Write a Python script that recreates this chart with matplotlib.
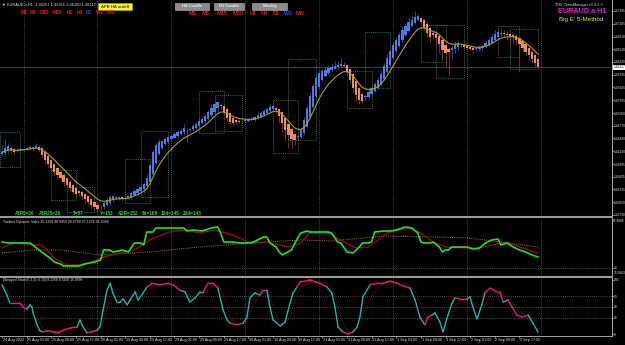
import numpy as np
import pandas as pd
import matplotlib
matplotlib.use("Agg")
import matplotlib.pyplot as plt
from matplotlib.patches import Rectangle
from matplotlib.lines import Line2D
from matplotlib.collections import LineCollection
from matplotlib.transforms import blended_transform_factory

plt.rcParams['font.family'] = ['Liberation Sans', 'DejaVu Sans']

# ---- EURAUD.a H1, Heiken Ashi close, 24 Aug 17:00 .. 2 Sep 23:00
ha_close = [
    1.4417, 1.4426, 1.4431, 1.4422, 1.4417, 1.4422, 1.4424,
    1.4424, 1.4426, 1.4428, 1.4428, 1.4431, 1.4422, 1.4410, 1.4399, 1.4390, 1.4380, 1.4371, 1.4364,
    1.4358, 1.4348, 1.4342, 1.4335, 1.4326, 1.4321, 1.4323, 1.4316, 1.4310, 1.4303, 1.4296, 1.4291,
    1.4287, 1.4291, 1.4300, 1.4307, 1.4314, 1.4316, 1.4312, 1.4314, 1.4312, 1.4310, 1.4316, 1.4323,
    1.4328, 1.4332, 1.4337, 1.4344, 1.4358, 1.4387, 1.4417, 1.4433, 1.4440, 1.4442, 1.4447, 1.4451,
    1.4454, 1.4458, 1.4463, 1.4465, 1.4472, 1.4467, 1.4470, 1.4476, 1.4481, 1.4488, 1.4492, 1.4499,
    1.4508, 1.4518, 1.4527, 1.4531, 1.4522, 1.4508, 1.4495, 1.4486, 1.4483, 1.4486, 1.4486, 1.4488,
    1.4490, 1.4490, 1.4492, 1.4497, 1.4502, 1.4506, 1.4511, 1.4515, 1.4520, 1.4522, 1.4513, 1.4499,
    1.4483, 1.4467, 1.4456, 1.4447, 1.4444, 1.4454, 1.4467, 1.4490, 1.4518, 1.4545, 1.4568, 1.4586,
    1.4598, 1.4602, 1.4604, 1.4609, 1.4612, 1.4614, 1.4616, 1.4618, 1.4614, 1.4600, 1.4582, 1.4563,
    1.4547, 1.4536, 1.4534, 1.4545, 1.4554, 1.4563, 1.4572, 1.4582, 1.4595, 1.4614, 1.4632, 1.4648,
    1.4662, 1.4673, 1.4685, 1.4696, 1.4705, 1.4714, 1.4719, 1.4726, 1.4728, 1.4714, 1.4701, 1.4689,
    1.4680, 1.4685, 1.4678, 1.4664, 1.4650, 1.4643, 1.4646, 1.4655, 1.4662, 1.4666, 1.4662, 1.4657,
    1.4655, 1.4653, 1.4650, 1.4653, 1.4655, 1.4659, 1.4666, 1.4673, 1.4680, 1.4687, 1.4691, 1.4689,
    1.4687, 1.4685, 1.4682, 1.4680, 1.4673, 1.4664, 1.4655, 1.4646, 1.4639, 1.4630, 1.4620, 1.46117,
]
# wick lengths in pips
wick_hi = [
    15, 20, 6, 4, 3, 5, 4,
    3, 4, 5, 3, 6, 3, 2, 2, 3, 2, 2, 3, 2, 4, 2, 3, 2, 2, 3, 4, 2, 2, 3, 2,
    2, 4, 5, 6, 4, 3, 5, 3, 2, 4, 3, 5, 4, 3, 6, 5, 8, 6, 5, 4, 6, 3, 4, 5,
    3, 4, 5, 6, 8, 4, 3, 5, 4, 6, 5, 4, 6, 8, 5, 3, 2, 3, 4, 3, 2, 3, 4, 3,
    3, 4, 5, 3, 6, 4, 5, 4, 7, 4, 3, 2, 3, 2, 3, 4, 3, 5, 6, 8, 7, 6, 5, 4,
    6, 5, 8, 6, 9, 12, 10, 14, 6, 3, 2, 3, 2, 3, 4, 5, 4, 6, 5, 6, 7, 6, 8, 7,
    6, 8, 7, 9, 8, 10, 12, 14, 5, 4, 3, 6, 5, 4, 3, 2, 4, 6, 5, 4, 8, 6, 5, 4,
    3, 4, 5, 4, 6, 5, 7, 8, 6, 9, 10, 12, 8, 6, 5, 3, 4, 3, 2, 3, 2, 3, 2, 3,
]
wick_lo = [
    6, 4, 5, 8, 6, 4, 3,
    3, 2, 3, 4, 2, 5, 6, 8, 7, 6, 8, 7, 6, 9, 8, 7, 6, 8, 7, 6, 9, 8, 10, 9,
    8, 6, 4, 3, 5, 4, 3, 4, 5, 3, 2, 3, 2, 4, 3, 8, 6, 4, 3, 2, 3, 2, 3, 2,
    3, 2, 4, 3, 6, 27, 5, 3, 2, 3, 2, 3, 2, 4, 8, 10, 9, 7, 6, 5, 4, 3, 2, 3,
    2, 3, 2, 3, 2, 3, 2, 3, 2, 5, 10, 15, 20, 25, 30, 22, 10, 6, 4, 3, 2, 3, 2, 3,
    3, 2, 3, 2, 3, 2, 3, 4, 6, 8, 10, 12, 14, 10, 8, 6, 4, 3, 2, 3, 2, 3, 2, 3,
    2, 3, 2, 3, 2, 3, 2, 3, 2, 5, 8, 10, 12, 9, 14, 20, 25, 30, 55, 20, 8, 6, 5, 4,
    4, 5, 6, 5, 4, 3, 2, 3, 2, 3, 2, 3, 8, 12, 20, 15, 12, 65, 10, 8, 12, 10, 8, 6,
]
last_price = 1.46117
price_ticks = [1.47395, 1.47105, 1.46810, 1.46520, 1.46230, 1.45935, 1.45645, 1.45355, 1.45060,
               1.44770, 1.44480, 1.44190, 1.43895, 1.43605, 1.43315, 1.43020, 1.42730]
day_starts = [7, 31, 55, 79, 103, 127, 151, 175]
date_idx = list(range(0, 169, 8))
date_labels = ["24 Aug 2022", "25 Aug 01:00", "25 Aug 09:00", "25 Aug 17:00", "26 Aug 01:00",
               "26 Aug 09:00", "26 Aug 17:00", "29 Aug 01:00", "29 Aug 09:00", "29 Aug 17:00",
               "30 Aug 01:00", "30 Aug 09:00", "30 Aug 17:00", "31 Aug 01:00", "31 Aug 09:00",
               "31 Aug 17:00", "1 Sep 01:00", "1 Sep 09:00", "1 Sep 17:00", "2 Sep 01:00",
               "2 Sep 09:00", "2 Sep 17:00"]

# 5-Method boxes
box_start = [-0.5, 16, 21, 40, 45, 64, 69, 88, 93, 112, 118, 136, 141, 161, 165]
box_end = [6, 24, 30, 48, 54, 72, 78, 96, 102, 120, 126, 144, 150, 168, 174]
box_low = [1.4383, 1.4307, 1.4280, 1.4300, 1.4314, 1.4460, 1.4465, 1.4415, 1.4444, 1.4518,
           1.4563, 1.4623, 1.4586, 1.4634, 1.4607]
box_high = [1.4463, 1.4376, 1.4337, 1.4401, 1.4465, 1.4556, 1.4547, 1.4536, 1.4630, 1.4602,
            1.4691, 1.4707, 1.4707, 1.4705, 1.4698]
box_kind = ['teal', 'green', 'teal', 'green', 'teal', 'green', 'teal', 'green', 'teal', 'green',
            'teal', 'green', 'teal', 'green', 'teal']

# Traders Dynamic Index
tdi_bar = [0, 2, 4, 9, 10, 12, 16, 17, 19, 20,
           24, 25, 27, 30, 32, 33, 35, 36, 38, 39,
           41, 43, 45, 46, 47, 49, 50, 54, 55, 59,
           60, 62, 65, 68, 70, 71, 72, 75, 77, 81,
           85, 86, 87, 89, 90, 91, 94, 96, 97, 99,
           100, 106, 107, 109, 110, 112, 114, 116, 117, 119,
           120, 121, 124, 126, 128, 130, 131, 133, 135, 136,
           137, 139, 140, 142, 143, 144, 145, 146, 149, 151,
           153, 155, 157, 159, 161, 162, 164, 166, 168, 170,
           172, 174]
tdi_rsi = [45.9, 45.0, 45.0, 45.0, 43.2, 38.8, 30.7, 28.0, 26.3, 24.5,
           24.5, 24.5, 26.3, 28.0, 29.8, 38.8, 38.8, 37.0, 37.9, 38.8,
           37.0, 45.0, 45.0, 43.2, 54.8, 54.8, 58.4, 58.4, 58.4, 58.4,
           55.7, 56.6, 55.7, 58.4, 59.3, 53.9, 45.9, 45.9, 45.0, 45.0,
           50.4, 50.4, 45.0, 41.4, 37.0, 34.3, 38.8, 49.5, 53.9, 55.7,
           54.8, 54.8, 53.9, 45.9, 45.0, 37.0, 36.1, 41.4, 45.0, 45.0,
           45.9, 54.8, 55.7, 55.7, 56.6, 58.4, 59.3, 58.4, 53.9, 45.9,
           45.0, 45.0, 45.9, 41.4, 37.0, 38.8, 38.8, 41.4, 41.4, 41.4,
           39.6, 40.5, 45.0, 47.7, 48.6, 43.2, 45.0, 41.4, 38.8, 37.0,
           34.3, 32.5]
sig_bar = [0, 4, 10, 13, 17, 21, 25, 29, 33, 43, 48, 54, 60, 64, 69, 75, 80, 86, 93,
           97, 100, 106, 111, 115, 119, 125, 129, 132, 136, 140, 144, 151, 155, 159, 164, 168, 174]
tdi_signal = [40.5, 45.0, 43.2, 43.2, 31.6, 25.4, 25.4, 28.0, 32.5, 38.8, 47.7, 54.8, 56.6,
              53.9, 56.6, 52.1, 45.9, 45.9, 41.4, 45.0, 53.9, 53.9, 45.9, 40.5, 41.4, 53.9,
              56.6, 58.4, 53.9, 45.9, 41.4, 40.5, 40.5, 43.2, 45.9, 41.4, 36.1]
mid_bar = [0, 10, 19, 32, 48, 64, 81, 97, 107, 124, 140, 151, 162, 174]
tdi_mid = [36.1, 38.8, 38.8, 34.3, 37.0, 41.4, 45.0, 47.7, 46.8, 51.2, 50.4, 49.5, 45.9, 41.4]

# Stepped Stoch main line (1 = pink segment)
st_bar = [0, 1.6, 2.6, 3.6, 5.8, 6.8, 8.1, 9.1, 9.7, 10.1,
          11.4, 12.3, 13.3, 14.9, 16.6, 18.2, 19.8, 22.1, 24.4, 25.3,
          26.3, 27.6, 29.2, 30.8, 31.8, 32.8, 34.1, 35.1, 36.0, 37.3,
          38.3, 39.3, 40.6, 41.6, 43.2, 44.2, 45.8, 47.1, 48.7, 51.3,
          53.9, 55.5, 57.8, 59.4, 61.0, 62.7, 64.3, 65.3, 66.9, 68.5,
          70.1, 71.8, 73.1, 74.0, 76.3, 78.2, 79.5, 80.5, 82.1, 83.8,
          84.7, 86.0, 87.0, 88.0, 89.3, 90.3, 91.9, 93.5, 94.5, 95.8,
          96.8, 100.0, 103.2, 105.5, 107.1, 108.1, 109.1, 110.7, 112.3, 114.0,
          115.3, 116.2, 117.2, 119.5, 121.8, 123.7, 126.0, 128.2, 130.2, 132.5,
          134.1, 135.7, 137.3, 138.3, 139.6, 140.6, 142.2, 143.2, 144.8, 146.1,
          147.1, 148.7, 151.0, 151.9, 152.9, 154.2, 155.8, 156.8, 158.4, 160.7,
          161.7, 162.7, 164.3, 165.6, 167.2, 168.8, 170.8, 172.4, 174.0]
st_k = [91, 72, 57, 57, 57, 50, 46, 54, 50, 39,
        17, 6, 4, 6, 4, 2, 7, 11, 13, 26,
        13, 2, 4, 7, 13, 44, 81, 94, 76, 59,
        59, 65, 54, 63, 78, 63, 76, 87, 94, 91,
        94, 91, 81, 78, 59, 67, 78, 78, 94, 94,
        85, 44, 26, 20, 17, 20, 30, 67, 76, 72,
        81, 81, 50, 26, 20, 15, 22, 57, 76, 87,
        96, 100, 94, 87, 76, 50, 13, 4, 0, 4,
        13, 31, 69, 91, 94, 94, 98, 94, 89, 85,
        63, 31, 17, 31, 35, 39, 22, 4, 35, 57,
        67, 65, 65, 69, 50, 28, 54, 76, 85, 78,
        78, 59, 63, 50, 35, 31, 35, 20, 4]
st_pink = [0, 0, 0, 1, 1, 1, 1, 0, 0, 0,
           0, 0, 0, 1, 1, 1, 1, 1, 1, 0,
           0, 0, 1, 1, 0, 0, 0, 0, 0, 0,
           0, 0, 0, 0, 0, 0, 0, 0, 1, 1,
           1, 1, 1, 0, 0, 0, 0, 0, 1, 1,
           1, 0, 0, 0, 1, 1, 0, 0, 0, 0,
           1, 1, 0, 0, 0, 0, 0, 0, 0, 0,
           1, 1, 1, 1, 0, 0, 0, 0, 1, 1,
           0, 0, 0, 0, 1, 1, 1, 1, 1, 1,
           0, 0, 0, 1, 1, 0, 0, 0, 0, 0,
           0, 1, 1, 0, 0, 0, 0, 0, 1, 1,
           1, 1, 0, 1, 1, 1, 1, 0, 0]

stats_text = ["ATR5=26", "ATR25=26", "T=57", "Y=153", "ADR=152", "5d=168", "10d=145", "20d=143"]
tf_labels = ["M1", "M5", "M15", "M30", "H1", "H4", "D1", "W1", "MN"]

# ---------------------------------------------------------------- layout
W, H = 625, 345
fig = plt.figure(figsize=(W / 100, H / 100), dpi=100, facecolor='black')
GRID = '#8a8a8a'
TXT = '#e0e0e0'
X0, X1 = -0.65, 198.05


def px_axes(x0, y0, x1, y1):
    a = fig.add_axes([x0 / W, 1 - y1 / H, (x1 - x0) / W, (y1 - y0) / H])
    a.set_facecolor('black')
    for s in a.spines.values():
        s.set_visible(False)
    a.spines['right'].set_visible(True)
    a.spines['right'].set_color('#c0c0c0')
    a.spines['right'].set_linewidth(0.6)
    a.set_xlim(X0, X1)
    a.set_xticks([])
    a.yaxis.tick_right()
    a.tick_params(axis='y', colors=TXT, labelsize=2.3, length=1.2, width=0.4, pad=0.3)
    for d in day_starts:
        a.axvline(d, color=GRID, lw=0.5, ls=(0, (1, 2)), zorder=0)
    return a


def ftext(x, y, s, **kw):
    kw.setdefault('va', 'center')
    kw.setdefault('ha', 'left')
    fig.text(x / W, 1 - y / H, s, **kw)


# ---------------------------------------------------------------- main chart
ax = px_axes(0, 0, 612, 216)
ax.set_ylim(1.42707, 1.47645)
ax.set_yticks(price_ticks, labels=[f"{p:.5f}" for p in price_ticks])

n = len(ha_close)
idx = np.arange(n)
close = np.array(ha_close)
ha_open = np.zeros(n)
ha_open[0] = close[0] - 0.0004
for k in range(1, n):
    ha_open[k] = (ha_open[k - 1] + close[k - 1]) / 2
top = np.maximum(ha_open, close)
bot = np.minimum(ha_open, close)
high = top + np.array(wick_hi) * 0.0001
low = bot - np.array(wick_lo) * 0.0001
bull = close >= ha_open

ax.vlines(idx, low, high, colors=np.where(bull, '#2f4fae', '#8e3222'), lw=0.6, zorder=2)
ax.bar(idx, np.maximum(top - bot, 0.00012), bottom=bot, width=0.72,
       color=np.where(bull, '#4a7ae8', '#f08a62'), linewidth=0, zorder=3)

ma = pd.Series(ha_close).ewm(span=9, adjust=False).mean()
ax.plot(idx, ma, color='#a8a400', lw=0.8, zorder=4)

for s, e, lo, hi, kind in zip(box_start, box_end, box_low, box_high, box_kind):
    ax.add_patch(Rectangle((s, lo), e - s, hi - lo, fill=False, lw=0.6, ls=(0, (1, 1.3)),
                           edgecolor='#1f9090' if kind == 'teal' else '#4c8c1c', zorder=1))

ax.axhline(last_price, color='#5c5c5c', lw=0.5, zorder=1)
ftext(613.3, 67.5, f"{last_price:.5f}", fontsize=2.3, color='black',
      bbox=dict(boxstyle='square,pad=0.2', fc='white', ec='none'))

# header texts
ftext(2, 5, "\u25bc EURAUD.a,H1  1.46251 1.46251 1.46100 1.46117", fontsize=2.8, color=TXT,
      family=['Liberation Sans', 'DejaVu Sans'])
set1_x = [21, 30, 40, 53, 67, 77, 86, 96, 107]
set2_x = [189, 202, 217, 233, 250, 261, 273, 284, 296]
for lab, xa, xb in zip(tf_labels, set1_x, set2_x):
    ftext(xa, 13, lab, fontsize=3.4, color='#2a4cff' if lab == 'D1' else '#f01030',
          weight='bold')
    ftext(xb, 13.5, lab, fontsize=4.1, color='#2a4cff' if lab == 'W1' else '#f01030',
          weight='bold')

fig.add_artist(Rectangle((98 / W, 1 - 10 / H), 34 / W, 7 / H, transform=fig.transFigure,
                         fc='#ffff00', ec='#b0b000', lw=0.4))
ftext(115, 6.5, "APB HA on/off", fontsize=3.0, color='#1030d0', ha='center', weight='bold')
for lab, bx, bw in [("H4 Candle", 175, 34), ("D1 Candle", 214, 30), ("Weekly", 252, 35)]:
    fig.add_artist(Rectangle((bx / W, 1 - 9.5 / H), bw / W, 7 / H, transform=fig.transFigure,
                             fc='#8c8c8c', ec='#b4b4b4', lw=0.4))
    ftext(bx + bw / 2, 6, lab, fontsize=3.0, color='#f0f0f0', ha='center', weight='bold')

ftext(555, 5, "THV CloseManager v1.4.2 \u00a9", fontsize=2.7, color=TXT)
ftext(558, 11.5, "EURAUD.a H1", fontsize=5.2, color='#e020e0', weight='bold')
ftext(559, 19.5, "Big E' 5-Method", fontsize=4.5, color='#e8e800')

stats_x = [15, 39, 73, 100, 118, 142, 161, 183]
for s, xs in zip(stats_text, stats_x):
    ftext(xs, 213.5, s, fontsize=3.3, color='#22e022', weight='bold')

# ---------------------------------------------------------------- TDI
ax_t = px_axes(0, 218, 612, 276)
ax_t.set_ylim(15.56, 67.30)
ax_t.set_yticks([23], labels=["23"])
ax_t.axhline(23, color=GRID, lw=0.5, ls=(0, (1, 2)), zorder=0)
ax_t.plot(mid_bar, tdi_mid, color='#a57a18', lw=0.7, ls=(0, (1, 1.2)))
ax_t.plot(sig_bar, tdi_signal, color='#9a0f0f', lw=0.9)
ax_t.plot(tdi_bar, tdi_rsi, color='#22e022', lw=1.2)
ftext(3, 221.5, "Traders Dynamic Index 35.2209 46.9459 30.6709 37.1232 31.3088",
      fontsize=2.5, color=TXT)
ftext(613.3, 220.5, "67.3008", fontsize=2.3, color=TXT)
ftext(613.3, 273.2, "15.5603", fontsize=2.3, color=TXT)

# ---------------------------------------------------------------- Stoch
ax_s = px_axes(0, 277.5, 612, 336)
ax_s.set_ylim(-3.7, 104.6)
ax_s.set_yticks([0, 30, 50, 70, 100], labels=["0", "30", "50", "70", "100"])
for lv in (30, 50, 70):
    ax_s.axhline(lv, color=GRID, lw=0.5, ls=(0, (1, 2)), zorder=0)
ax_s.spines['bottom'].set_visible(True)
ax_s.spines['bottom'].set_color('#c0c0c0')
ax_s.spines['bottom'].set_linewidth(0.6)
ax_s.set_xticks(date_idx, labels=[])
ax_s.tick_params(axis='x', colors=TXT, length=1.5, width=0.4)

signal = pd.Series(st_k).rolling(3, min_periods=1).mean()
ax_s.plot(st_bar, signal, color='#a01818', lw=0.6, ls=(0, (1, 1.2)))
pts = np.column_stack([st_bar, st_k])
segs = np.stack([pts[:-1], pts[1:]], axis=1)
cols = ['#e0207a' if p else '#1fb3ad' for p in st_pink[1:]]
ax_s.add_collection(LineCollection(segs, colors=cols, lw=1.0, capstyle='round'))
ftext(3, 280.5, "[Stepped Stoch(5,3,3) v1.02] 8.3268 8.3268 16.8998", fontsize=2.4, color=TXT)

tr = blended_transform_factory(ax_s.transData, fig.transFigure)
for d, lab in zip(date_idx, date_labels):
    ax_s.text(d + 0.2, 1 - 340.5 / H, lab, transform=tr, fontsize=2.7, color=TXT,
              ha='left', va='center')

# panel separators
for ysep in (217, 276.8):
    fig.add_artist(Line2D([0, 612 / W], [1 - ysep / H] * 2, color='#9a9a9a', lw=1.5,
                          transform=fig.transFigure))

fig.savefig("out.png", dpi=100, facecolor='black')
